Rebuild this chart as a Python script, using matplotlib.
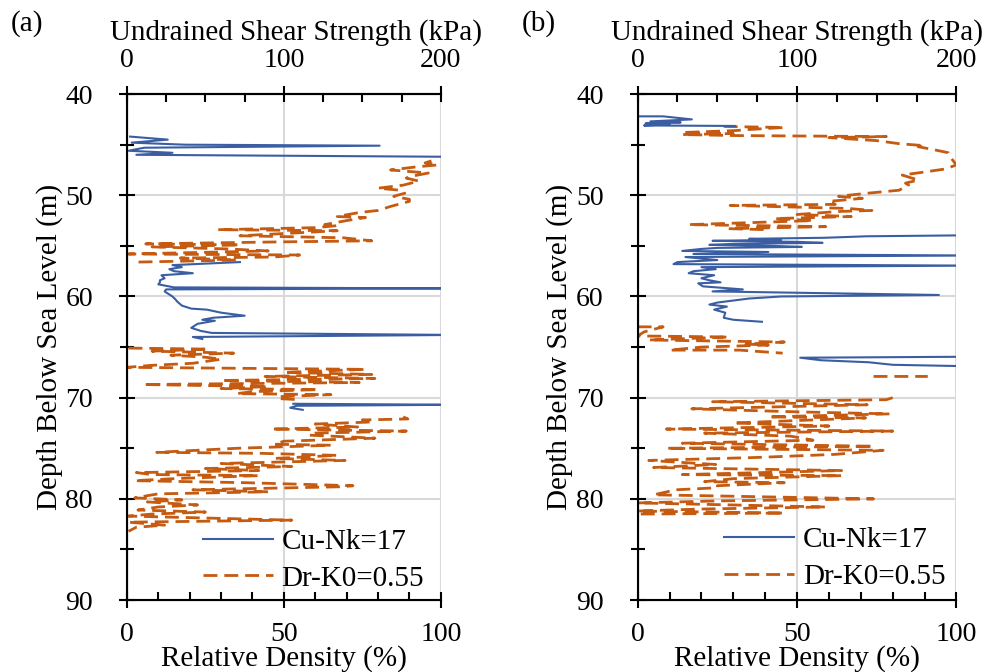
import numpy as np
import matplotlib
matplotlib.use('Agg')
import matplotlib.pyplot as plt
from matplotlib.ticker import MultipleLocator

nan = np.nan

# Panel (a): undrained shear strength, Cu-Nk=17 (kPa)
depth_cu_a = [44.2, 44.5, 44.8, 45.0, 45.1, 45.3, 45.6, 45.8, 46.0, 46.2, nan,
              56.6, 56.9, 57.1, 57.3, 57.5, 57.7, 57.9, 58.2, 58.4, 58.6, 58.8, 59.1, 59.2, 59.3,
              59.5, 59.8, 60.0, 60.3, 60.5, 60.9, 61.2, 61.3, 61.6, 61.9, 62.1, 62.3, 62.4,
              62.7, 63.1, 63.4, 63.6, 63.8, 64.0, 64.2, nan,
              70.6, 70.7, 70.8, 71.0, 71.2]
cu_a = [2, 26, 3, 37, 161, 11, 1, 29, 6, 210, nan,
        72, 29, 35, 27, 30, 42, 22, 24, 21, 21, 20, 30, 210, 25,
        24, 27, 29, 31, 32, 35, 41, 51, 60, 75, 55, 48, 56,
        45, 41, 47, 54, 210, 42, 48, nan,
        106, 210, 108, 104, 112]

# Panel (a): relative density, Dr-K0=0.55 (%)
depth_dr_a = [46.6, 46.8, 47.0, 47.2, 47.5, 47.7, 47.8, 48.1, 48.3, 48.6, 49.0, 49.3, 49.5,
              49.8, 50.1, 50.4, 50.6, 51.1, 51.5, 51.7, 52.1, 52.2, 52.5, 52.9, 53.0, 53.2,
              53.4, 53.5, 53.7, 54.0, 54.2, 54.5, 54.6, 54.8, 54.9, 55.1, 55.3, 55.5, 55.8,
              55.9, 56.1, 56.2, 56.4, 56.6, nan,
              65.1, 65.2, 65.4, 65.6, 65.8, 66.0, 66.2, 66.6, 66.8, 67.0, 67.2, 67.5, 67.7,
              67.9, 68.1, 68.3, 68.5, 68.7, 68.9, 69.1, 69.2, 69.4, 69.6, 69.7, 69.9, 70.1,
              70.2, nan,
              71.9, 72.1, 72.2, 72.4, 72.6, 72.9, 73.1, 73.3, 73.5, 73.7, 74.0, 74.3, 74.6,
              74.7, 75.0, 75.4, 75.5, 75.7, 76.0, 76.2, 76.5, 76.8, 77.0, 77.2, 77.4, 77.6,
              77.7, 78.0, 78.2, 78.4, 78.7, 78.8, 79.1, 79.3, 79.5, 79.9, 80.1, 80.3, 80.6,
              80.8, 81.1, 81.3, 81.5, 81.7, 82.1, 82.3, 82.6, 82.8, 83.2]
dr_a = [97, 95, 99, 92, 84, 92, 96, 91, 89, 93, 88, 80, 87,
        88.5, 85, 90, 90, 84, 80, 74, 67, 76, 70, 63, 67, 60,
        29, 67, 55, 36, 69, 78, 50, 6, 36, 8, 32, 45, 0.5,
        55, 47, 17, 35, 3.5, nan,
        0.5, 26, 8, 34, 14, 25, 30, 21, 8, 0, 76, 50, 78,
        44, 79, 30, 74, 5, 45, 30, 61, 40, 35, 65, 48, 49,
        55, nan,
        88, 89.5, 75, 78, 60, 73.5, 46, 89, 60, 58, 79, 50, 47,
        65, 35, 9.5, 43, 67, 47, 69.5, 30, 52.5, 25, 42, 3, 8,
        42, 15, 2.5, 38, 72, 68.5, 21, 45, 10, 2.5, 17.5, 6.5, 22.5,
        10, 3.5, 25, 8, 0.5, 52.5, 0.5, 12, 3, 0.5]

# Panel (b): undrained shear strength, Cu-Nk=17 (kPa)
depth_cu_b = [42.2, 42.2, 42.5, 42.7, 42.8, 42.9, 43.0, 43.1, 43.15, nan,
              53.95, 54.05, 54.2, 54.3, 54.4, 54.5, 54.6, 54.7, 54.8, 54.9, 55.0, 55.1, 55.2,
              55.3, 55.5, 55.6, 55.8, 55.95, 56.1, 56.4, 56.6, 56.8, 56.95, 57.1, 57.3,
              57.5, 57.7, 57.9, 58.2, 58.4, 58.6, 58.7, 59.0, 59.3, 59.5, 59.85, 60.0,
              60.2, 60.4, 60.6, 60.8, 61.0, 61.3, 61.6, 62.1, 62.3, 62.5, nan,
              65.95, 66.05, 66.3, 66.5, 66.75, 66.9]
cu_b = [1, 16, 34, 8, 27, 5, 20, 4, 61, nan,
        210, 144, 117, 70, 90, 47, 100, 116, 60, 45, 85, 103, 50,
        40, 28, 82, 35, 210, 30, 50, 25, 22.5, 210, 40, 49,
        35, 32, 48, 40, 45, 52, 38, 41, 66, 47, 189, 90,
        70, 60, 50, 45, 56, 48, 55, 54, 60, 78, nan,
        210, 102, 115, 145, 160, 210]

# Panel (b): relative density, Dr-K0=0.55 (%)
depth_dr_b = [43.2, 43.3, 43.5, 43.6, 43.8, 43.9, 44.0, 44.1, 44.2, 44.3, 44.6, 44.9, 45.1,
              45.2, 45.5, 45.8, 46.2, 47.0, 47.4, 47.7, 48.0, 48.5, 48.8, 49.0, 49.5, 49.8,
              50.1, 50.3, 50.6, 50.9, 51.0, 51.3, 51.5, 51.6, 51.9, 52.1, 52.3, 52.5, 52.9,
              53.1, 53.3, 53.4, nan,
              63.0, 63.0, 63.5, 63.9, 64.0, 64.3, 64.5, 64.7, 64.8, 65.0, 65.3, 65.3, 65.6, nan,
              67.9, 67.9, nan,
              70.0, 70.2, 70.4, 70.7, 71.1, 71.4, 71.6, 71.9, 72.0, 72.5, 72.8, 73.1, 73.3,
              73.5, 73.8, 74.2, 74.5, 74.8, 75.0, 75.2, 75.6, 75.9, 76.2, 76.6, 76.9, 77.2,
              77.6, 77.7, 78.0, 78.3, 78.4, 78.7, 78.9, 79.1, 79.6, 79.7, 80.0, 80.2, 80.4,
              80.6, 80.8, 81.0, 81.2, 81.4, 81.5]
dr_b = [27, 46, 35, 31, 14, 30, 14, 31, 78, 60, 75, 82, 90,
        88, 93, 97.5, 98, 100, 96.5, 90, 83, 88, 84, 85, 82, 72,
        63, 70.5, 60, 62, 29, 66, 73.5, 63, 50, 67, 43, 55, 16,
        59, 28.5, 41, nan,
        0, 8, 2, 0, 28.5, 3.5, 46, 34, 41, 20, 10, 32, 45.5, nan,
        74, 91, nan,
        80, 78, 23.5, 72, 17, 50, 79, 41, 71.5, 30, 60, 9, 80,
        21, 48, 55, 14, 74, 9, 77, 62, 38, 3.5, 24.5, 5, 64,
        14, 64, 30, 21, 46, 25, 25, 12, 5, 23.5, 74, 25, 0,
        30, 59, 20, 0, 46, 0.5]

blue = '#3B5EA3'
orange = '#C55A11'
fs = 20      # tick labels
fs_lab = 21  # axis labels, legend

plt.rcParams['font.family'] = ['Liberation Serif', 'DejaVu Serif']
plt.rcParams['font.size'] = fs

fig = plt.figure(figsize=(9.84, 6.72), dpi=100)

# tag, axes rect, data, legend anchor, top label x-position
panels = [
    ('(a)', [0.129, 0.107, 0.319, 0.753], depth_cu_a, cu_a, depth_dr_a, dr_a, (1.03, -0.035), 0.54),
    ('(b)', [0.648, 0.107, 0.324, 0.753], depth_cu_b, cu_b, depth_dr_b, dr_b, (1.048, -0.032), 0.5),
]

for tag, rect, d_cu, cu, d_dr, dr, leg_anchor, top_x in panels:
    ax = fig.add_axes(rect)
    ax.set_xlim(0, 100)
    ax.set_ylim(90, 40)
    ax.set_yticks([40, 50, 60, 70, 80, 90])
    ax.yaxis.set_minor_locator(MultipleLocator(5))
    ax.set_xticks([0, 50, 100])
    ax.xaxis.set_minor_locator(MultipleLocator(10))
    ax.grid(True, which='major', color='#d9d9d9', lw=1.5)
    ax.set_axisbelow(True)
    ax.spines['right'].set_visible(False)
    ax.tick_params(axis='both', which='major', direction='inout', length=11, width=1.5)
    ax.tick_params(axis='x', which='major', pad=10)
    ax.tick_params(axis='y', which='major', pad=19)
    ax.tick_params(axis='x', which='minor', direction='in', length=6, width=1.5)
    ax.tick_params(axis='y', which='minor', direction='inout', length=10, width=1.5)
    for s in ['left', 'bottom', 'top']:
        ax.spines[s].set_linewidth(1.5)
    ax.set_xlabel('Relative Density (%)', labelpad=-1, fontsize=fs_lab)
    ax.set_ylabel('Depth Below Sea Level (m)', labelpad=2, fontsize=fs_lab)
    l_dr, = ax.plot(dr, d_dr, color=orange, lw=2, ls=(0, (5, 2.5)),
                    label='Dr-K0=0.55')

    ax2 = ax.twiny()
    ax2.set_xlim(0, 200)
    ax2.set_xticks([0, 100, 200])
    ax2.xaxis.set_minor_locator(MultipleLocator(25))
    ax2.tick_params(axis='x', which='major', direction='inout', length=11, width=1.5, pad=10)
    ax2.tick_params(axis='x', which='minor', direction='in', length=6, width=1.5)
    ax2.spines['right'].set_visible(False)
    ax2.spines['top'].set_linewidth(1.5)
    ax2.set_xlabel('Undrained Shear Strength (kPa)', labelpad=6, fontsize=fs_lab, x=top_x)
    l_cu, = ax2.plot(cu, d_cu, color=blue, lw=1.5, label='Cu-Nk=17')

    ax2.legend(handles=[l_cu, l_dr], loc='lower right', bbox_to_anchor=leg_anchor,
               frameon=False, fontsize=fs_lab, handlelength=2.4, handletextpad=0.3,
               labelspacing=0.35)

    fig.text(rect[0] - 0.118, 0.965, tag, fontsize=fs_lab, va='center', ha='left')

fig.savefig('out.png', dpi=100)
